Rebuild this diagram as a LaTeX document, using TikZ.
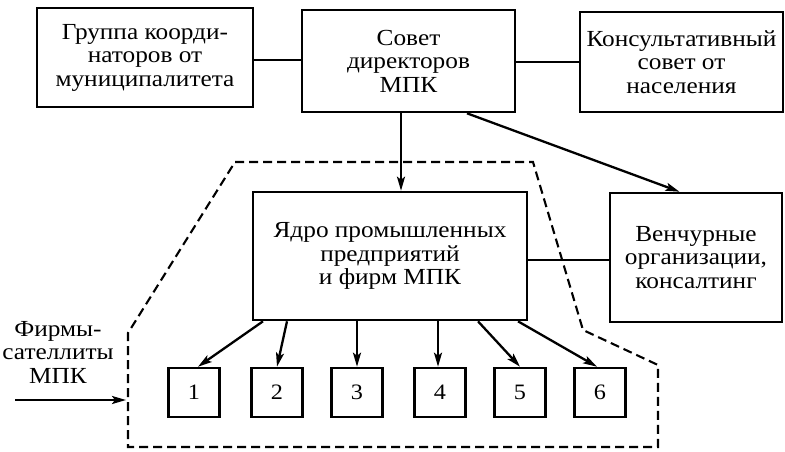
\documentclass[tikz,border=0pt]{standalone}
\usepackage{fontspec}
\setmainfont{Liberation Serif}
\newfontfamily\rusfont[FakeStretch=1.1]{Liberation Serif}
\usetikzlibrary{arrows.meta}
\begin{document}
\begin{tikzpicture}[x=1pt,y=-1pt,
  box/.style={draw, line width=2.6pt, align=center, inner sep=0pt, font=\rusfont\fontsize{23}{23.5}\selectfont},
  num/.style={draw, line width=2.6pt, minimum width=51pt, minimum height=49pt, inner sep=0pt, font=\rusfont\fontsize{22}{22}\selectfont},
  arr/.style={line width=2.3pt, -{Stealth[length=14pt,width=8pt,inset=3pt]}},
  link/.style={line width=2.3pt},
  dashbound/.style={line width=2.1pt, dash pattern=on 9pt off 5pt},
  lbl/.style={align=center, inner sep=0pt, font=\rusfont\fontsize{23}{23.5}\selectfont}]
\useasboundingbox (0,0) rectangle (785,451);
\fill[white] (0,0) rectangle (785,451);
% top row
\node[box, minimum width=216pt, minimum height=99pt] (b1) at (145,57.5) {Группа коорди-\\наторов от\\муниципалитета};
\node[box, minimum width=213pt, minimum height=102pt] (b2) at (408.5,61) {Совет\\директоров\\МПК};
\node[box, minimum width=203pt, minimum height=100pt] (b3) at (681.5,62) {Консультативный\\совет от\\населения};
% middle row
\node[box, minimum width=274pt, minimum height=128pt] (core) at (390,256) {Ядро промышленных\\предприятий\\и фирм МПК};
\node[box, minimum width=172pt, minimum height=129pt] (vent) at (696,257.5) {Венчурные\\организации,\\консалтинг};
% small boxes
\node[num] (s1) at (194,392.5) {1};
\node[num] (s2) at (277,392.5) {2};
\node[num] (s3) at (357,392.5) {3};
\node[num] (s4) at (440,392.5) {4};
\node[num] (s5) at (520,392.5) {5};
\node[num] (s6) at (600,392.5) {6};
% satellites label
\node[lbl] (sat) at (58,352) {Фирмы-\\сателлиты\\МПК};
\coordinate (satA) at (15,400);
\coordinate (satB) at (126,400);
% dashed boundary
\coordinate (d1) at (235,162);
\coordinate (d2) at (533,162);
\coordinate (d3) at (583,330);
\coordinate (d4) at (658,365);
\coordinate (d5) at (658,447);
\coordinate (d6) at (128,447);
\coordinate (d7) at (128,333);
\draw[dashbound] (d1) -- (d2) -- (d3) -- (d4) -- (d5) -- (d6) -- (d7) -- cycle;
% connectors
\draw[link] ([yshift=-2.5pt]b1.east) -- ([yshift=-2.5pt]b1.east -| b2.west);
\draw[link] ([yshift=-1pt]b2.east) -- ([yshift=-1pt]b2.east -| b3.west);
\draw[arr] ([xshift=-7.5pt]b2.south) -- ([xshift=-7.5pt]b2.south |- core.north);
\draw[arr] ([xshift=58.5pt]b2.south) -- ([xshift=-16.5pt]vent.north);
\draw[link] ([yshift=-4pt]core.east) -- ([yshift=-4pt]core.east -| vent.west);
\draw[arr] ([xshift=-127pt]core.south) -- ([xshift=4pt]s1.north);
\draw[arr] ([xshift=-103pt]core.south) -- (s2.north);
\draw[arr] ([xshift=-33pt]core.south) -- ([xshift=-33pt]core.south |- s3.north);
\draw[arr] ([xshift=48pt]core.south) -- ([xshift=48pt]core.south |- s4.north);
\draw[arr] ([xshift=88pt]core.south) -- (s5.north);
\draw[arr] ([xshift=128pt]core.south) -- ([xshift=-3pt]s6.north);
\draw[arr] (satA) -- (satB);
\end{tikzpicture}
\end{document}
